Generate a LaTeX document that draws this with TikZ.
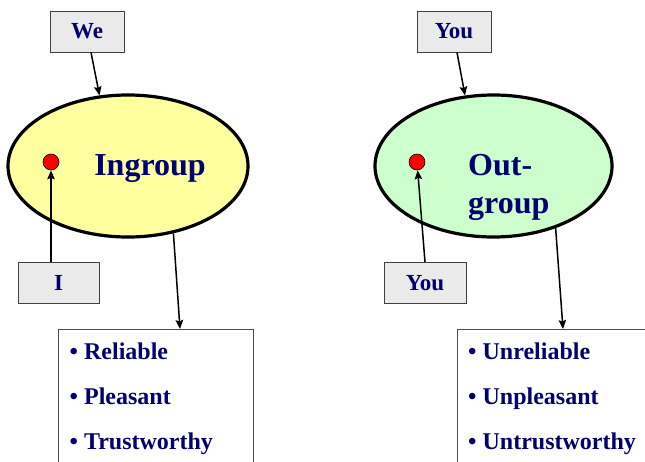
\documentclass[tikz,border=0pt]{standalone}
\usepackage{fontspec}
\setmainfont{Liberation Serif}
\usetikzlibrary{shapes.geometric,arrows.meta}
\definecolor{navy}{RGB}{0,0,110}
\definecolor{paleyellow}{RGB}{255,255,160}
\definecolor{palegreen}{RGB}{204,255,204}
\definecolor{labelgray}{RGB}{234,234,234}
\begin{document}
\begin{tikzpicture}[x=1pt,y=-1pt,
  labelbox/.style={draw=black!75, line width=0.8pt, fill=labelgray, minimum width=74pt,
    minimum height=41pt, inner sep=0pt, text=navy, font=\fontsize{23}{27}\selectfont\bfseries},
  group/.style={ellipse, draw=black, line width=3.2pt, inner sep=0pt},
  grouptext/.style={text=navy, inner sep=0pt, font=\fontsize{32}{38}\selectfont\bfseries},
  dot/.style={circle, draw=black, line width=0.6pt, fill=red, minimum size=16pt, inner sep=0pt},
  listbox/.style={draw=black!70, line width=0.9pt, fill=white, anchor=north west, minimum height=160pt},
  item/.style={anchor=base west, inner sep=0pt, text=navy, font=\fontsize{24}{28}\selectfont\bfseries},
  link/.style={line width=1.5pt, -{Stealth[length=9pt,width=7.5pt,inset=1.5pt]}}
]
\useasboundingbox (0,0) rectangle (645,461);
\clip (0,0) rectangle (645,461);

% ---- in-group side ----
\node[group, fill=paleyellow, minimum width=240pt, minimum height=142pt] (ingroup) at (128,166) {};
\node[grouptext, anchor=base] (ingrouplabel) at (150,175) {Ingroup};
\node[dot] (dot1) at (51,162) {};
\node[labelbox] (we) at (87,31.5) {We};
\node[labelbox, minimum width=81pt] (me) at (58.5,283) {I};
\node[listbox, minimum width=195pt] (list1) at (58,329) {};
\node[item] (r1) at (69.5,359) {• Reliable};
\node[item] (r2) at (69.5,404) {• Pleasant};
\node[item] (r3) at (69.5,449) {• Trustworthy};

\draw[link] ([xshift=4pt]we.south) -- (ingroup.112);
\draw[link] ([xshift=-7.5pt]me.north) -- (dot1.south);
\draw[link] (ingroup.-56) -- ([xshift=122pt]list1.north west);

% ---- out-group side ----
\node[group, fill=palegreen, minimum width=237pt, minimum height=142pt] (outgroup) at (493.5,166) {};
\node[grouptext, anchor=base west, align=left] (outgrouplabel) at (468,213) {Out-\\group};
\node[dot] (dot2) at (417,162) {};
\node[labelbox] (you1) at (454,31.5) {You};
\node[labelbox, minimum width=82pt] (you2) at (425,283) {You};
\node[listbox, minimum width=220pt] (list2) at (457,329) {};
\node[item] (u1) at (468,359) {• Unreliable};
\node[item] (u2) at (468,404) {• Unpleasant};
\node[item] (u3) at (468,449) {• Untrustworthy};

\draw[link] ([xshift=3pt]you1.south) -- (outgroup.112);
\draw[link] (you2.north) -- (dot2);
\draw[link] (outgroup.-45) -- ([xshift=106pt]list2.north west);
\end{tikzpicture}
\end{document}
